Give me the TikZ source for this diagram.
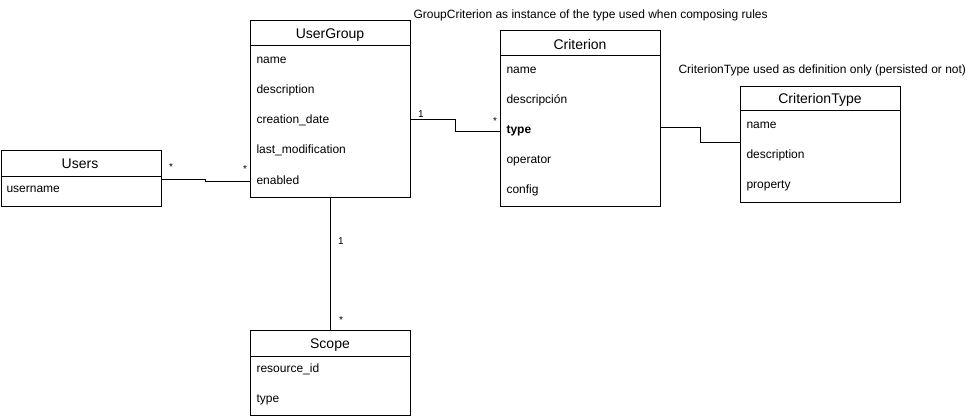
\documentclass[tikz,border=0pt]{standalone}
\usepackage{fontspec}
\setmainfont{Liberation Sans}
\begin{document}
\begin{tikzpicture}[x=1pt,y=-1pt, line width=1pt,
 cls/.style={draw, line width=1pt, anchor=north west, inner sep=0pt, minimum width=160pt},
 ttl/.style={font=\fontsize{14}{16}\selectfont, anchor=center, inner sep=0pt, yshift=-1pt},
 fld/.style={font=\fontsize{12}{14}\selectfont, anchor=west, inner sep=0pt, yshift=-1.5pt},
 lbl/.style={font=\fontsize{10}{12}\selectfont, inner sep=0pt},
 note/.style={font=\fontsize{12}{14}\selectfont, anchor=west, inner sep=0pt, yshift=-1pt},
 conn/.style={draw, line width=1pt}]
\useasboundingbox (0,0) rectangle (976,419);
% Users
\node[cls, minimum height=56pt] (users) at (0.5,150) {};
\draw (users.west |- 0,177) -- (users.east |- 0,177);
\node[ttl] (usersT) at (80,163) {Users};
\node[fld] (usersF1) at (6,188) {username};
% UserGroup
\node[cls, minimum height=177pt] (ug) at (250,20) {};
\draw (ug.west |- 0,46) -- (ug.east |- 0,46);
\node[ttl] (ugT) at (330,34) {UserGroup};
\node[fld] (ugF1) at (256,59) {name};
\node[fld] (ugF2) at (256,89) {description};
\node[fld] (ugF3) at (256,119) {creation\_date};
\node[fld] (ugF4) at (256,149) {last\_modification};
\node[fld] (ugF5) at (256,179) {enabled};
% Criterion
\node[cls, minimum height=176pt] (crit) at (500,30) {};
\draw (crit.west |- 0,56) -- (crit.east |- 0,56);
\node[ttl] (critT) at (580,44) {Criterion};
\node[fld] (critF1) at (506,69) {name};
\node[fld] (critF2) at (506,99) {descripción};
\node[fld, font=\fontsize{12}{14}\selectfont\bfseries] (critF3) at (506,129) {type};
\node[fld] (critF4) at (506,159) {operator};
\node[fld] (critF5) at (506,189) {config};
% CriterionType
\node[cls, minimum height=116pt] (ct) at (740,86) {};
\draw (ct.west |- 0,111) -- (ct.east |- 0,111);
\node[ttl] (ctT) at (820,99) {CriterionType};
\node[fld] (ctF1) at (746,124) {name};
\node[fld] (ctF2) at (746,154) {description};
\node[fld] (ctF3) at (746,184) {property};
% Scope
\node[cls, minimum height=85pt] (scope) at (250,330) {};
\draw (scope.west |- 0,356) -- (scope.east |- 0,356);
\node[ttl] (scopeT) at (330,344) {Scope};
\node[fld] (scopeF1) at (256,368) {resource\_id};
\node[fld] (scopeF2) at (256,398) {type};
% notes
\node[note] (n1) at (413,14) {GroupCriterion as instance of the type used when composing rules};
\node[note] (n2) at (678,69) {CriterionType used as definition only (persisted or not)};
% connectors
\draw[conn] (users.east |- 0,180) -- (205,180) -- (205,182) -- (ug.west |- 0,182);
\draw[conn] (ug.east |- 0,120) -- (455,120) -- (455,132) -- (crit.west |- 0,132);
\draw[conn] (crit.east |- 0,128) -- (700,128) -- (700,143) -- (ct.west |- 0,143);
\draw[conn] (ug.south) -- (scope.north);
% multiplicities
\node[lbl] (m1) at (171,167) {*};
\node[lbl] (m2) at (245,169) {*};
\node[lbl] (m3) at (421,114) {1};
\node[lbl] (m4) at (495,121) {*};
\node[lbl] (m5) at (341,241) {1};
\node[lbl] (m6) at (341,320) {*};
\end{tikzpicture}
\end{document}
